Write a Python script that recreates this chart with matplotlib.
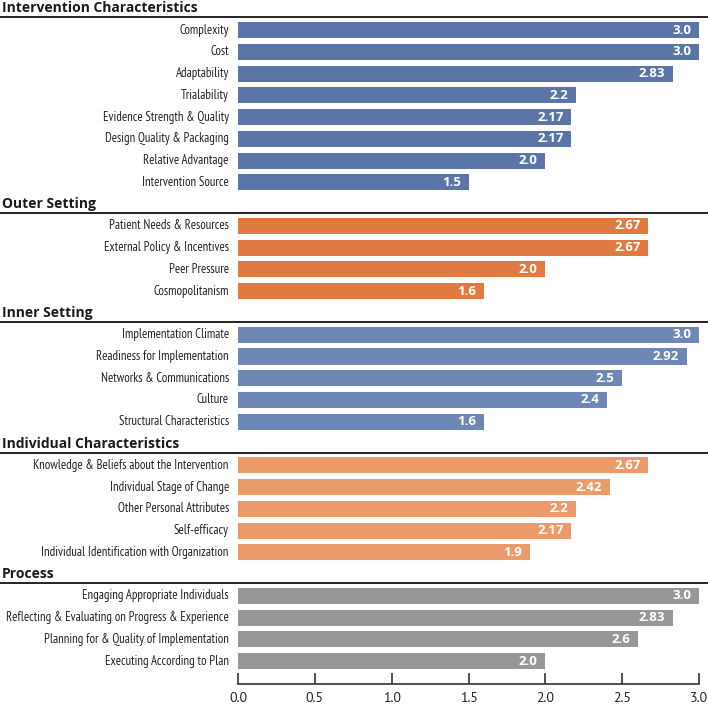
import matplotlib
matplotlib.use("Agg")
import matplotlib.pyplot as plt
import matplotlib.transforms as mtransforms
from matplotlib import font_manager

# ---------------- data ----------------
groups = ["Intervention Characteristics", "Outer Setting", "Inner Setting",
          "Individual Characteristics", "Process"]

intervention_labels = ["Complexity", "Cost", "Adaptability", "Trialability",
                       "Evidence Strength & Quality", "Design Quality & Packaging",
                       "Relative Advantage", "Intervention Source"]
intervention_values = [3.0, 3.0, 2.83, 2.2, 2.17, 2.17, 2.0, 1.5]

outer_labels = ["Patient Needs & Resources", "External Policy & Incentives",
                "Peer Pressure", "Cosmopolitanism"]
outer_values = [2.67, 2.67, 2.0, 1.6]

inner_labels = ["Implementation Climate", "Readiness for Implementation",
                "Networks & Communications", "Culture", "Structural Characteristics"]
inner_values = [3.0, 2.92, 2.5, 2.4, 1.6]

individual_labels = ["Knowledge & Beliefs about the Intervention",
                     "Individual Stage of Change", "Other Personal Attributes",
                     "Self-efficacy", "Individual Identification with Organization"]
individual_values = [2.67, 2.42, 2.2, 2.17, 1.9]

process_labels = ["Engaging Appropriate Individuals",
                  "Reflecting & Evaluating on Progress & Experience",
                  "Planning for & Quality of Implementation",
                  "Executing According to Plan"]
process_values = [3.0, 2.83, 2.6, 2.0]

x_ticks = [0.0, 0.5, 1.0, 1.5, 2.0, 2.5, 3.0]
colors = ["#5b76a6", "#e07a40", "#6f87b4", "#eb9a6a", "#97979a"]

# ---------------- fonts ----------------
avail = {f.name for f in font_manager.fontManager.ttflist}
if "PT Sans Narrow" in avail:
    narrow, lab_size = "PT Sans Narrow", 9.2
else:
    narrow, lab_size = "Liberation Sans", 8.4
tick_font = "PT Sans" if "PT Sans" in avail else "Liberation Sans"
bold_font = "Open Sans"

# ---------------- figure ----------------
fig = plt.figure(figsize=(7.08, 7.06), dpi=100)
ax = fig.add_axes([238 / 708, 1 - 684 / 706, (699 - 238) / 708, 684 / 706])

all_groups = [
    (intervention_labels, intervention_values),
    (outer_labels, outer_values),
    (inner_labels, inner_values),
    (individual_labels, individual_values),
    (process_labels, process_values),
]

blend = mtransforms.blended_transform_factory(fig.transFigure, ax.transData)

y = 0
for gi, (labs, vals) in enumerate(all_groups):
    if gi > 0:
        y += 1
    # header
    ax.text(2 / 708, y - 1.0, groups[gi], transform=blend, ha="left", va="center",
            fontsize=10, fontweight="bold", family=bold_font, color="#1a1a1a",
            clip_on=False)
    ax.plot([0, 1], [y - 0.58, y - 0.58], transform=blend, color="#222222",
            lw=1.4, clip_on=False, solid_capstyle="butt")
    for lab, v in zip(labs, vals):
        ax.barh(y, v, height=0.74, color=colors[gi], edgecolor="none")
        ax.text(v - 0.05, y, str(v), ha="right", va="center", color="white",
                fontsize=9.5, fontweight="bold", family=bold_font)
        ax.text(-0.06, y, lab, ha="right", va="center", color="#222222",
                fontsize=lab_size, family=narrow, clip_on=False)
        y += 1

ax.set_xlim(0, 3.0)
ax.set_ylim(30.05, -1.38)
ax.set_yticks([])
for s in ["left", "right", "top"]:
    ax.spines[s].set_visible(False)
ax.spines["bottom"].set_linewidth(1.2)
ax.spines["bottom"].set_color("#333333")
ax.set_xticks(x_ticks)
ax.set_xticklabels([f"{t:.1f}" for t in x_ticks], family=tick_font, fontsize=10,
                   color="#222222")
ax.tick_params(axis="x", direction="in", length=8, width=1.2, color="#333333", pad=6)

fig.savefig("out.png", dpi=100)
